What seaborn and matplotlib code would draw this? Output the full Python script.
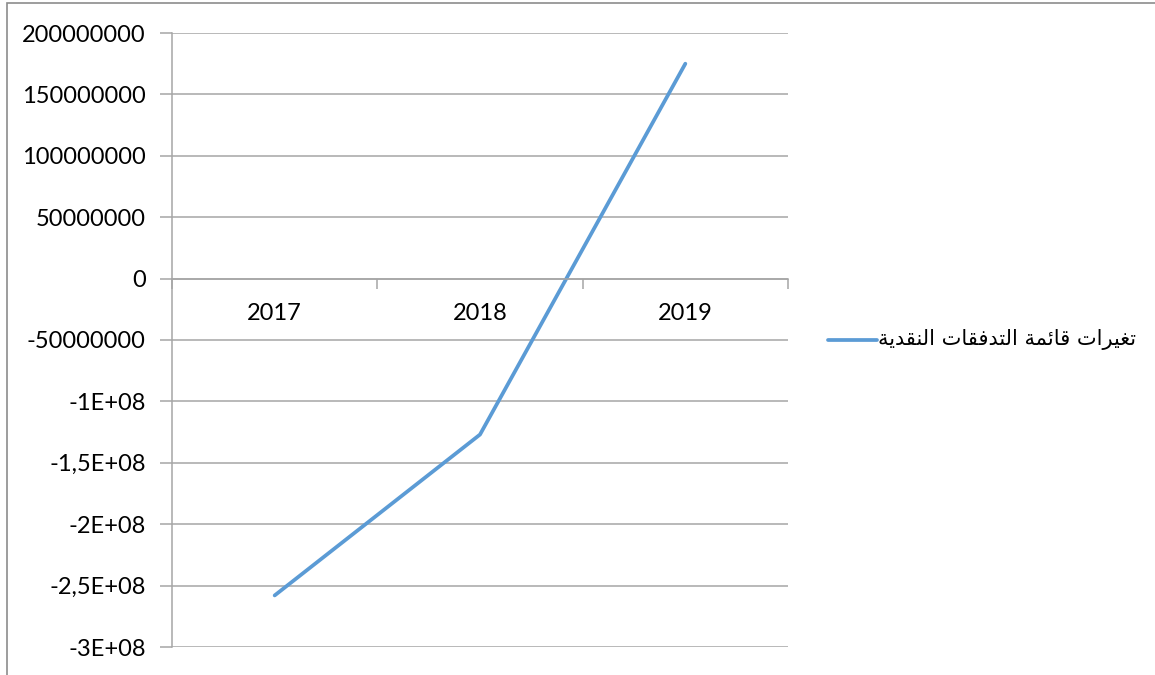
import matplotlib
matplotlib.use("Agg")
import matplotlib.pyplot as plt
import seaborn as sns
import pandas as pd
from matplotlib.patches import Rectangle
from matplotlib.lines import Line2D

# ---- data ----
years = ["2017", "2018", "2019"]
values = [-258000000, -127000000, 175000000]
series_name = "تغيرات قائمة التدفقات النقدية"
y_ticks = [200000000, 150000000, 100000000, 50000000, 0, -50000000,
           -100000000, -150000000, -200000000, -250000000, -300000000]
y_tick_labels = ["200000000", "150000000", "100000000", "50000000", "0",
                 "-50000000", "-1E+08", "-1,5E+08", "-2E+08", "-2,5E+08", "-3E+08"]

# ---- minimal Arabic shaping (presentation forms) ----
FORMS = {  # iso, fin, ini, med
    "ا": ("\uFE8D", "\uFE8E", None, None),
    "ت": ("\uFE95", "\uFE96", "\uFE97", "\uFE98"),
    "ة": ("\uFE93", "\uFE94", None, None),
    "غ": ("\uFECD", "\uFECE", "\uFECF", "\uFED0"),
    "ي": ("\uFEF1", "\uFEF2", "\uFEF3", "\uFEF4"),
    "ر": ("\uFEAD", "\uFEAE", None, None),
    "ق": ("\uFED5", "\uFED6", "\uFED7", "\uFED8"),
    "ئ": ("\uFE89", "\uFE8A", "\uFE8B", "\uFE8C"),
    "م": ("\uFEE1", "\uFEE2", "\uFEE3", "\uFEE4"),
    "ل": ("\uFEDD", "\uFEDE", "\uFEDF", "\uFEE0"),
    "د": ("\uFEA9", "\uFEAA", None, None),
    "ف": ("\uFED1", "\uFED2", "\uFED3", "\uFED4"),
    "ن": ("\uFEE5", "\uFEE6", "\uFEE7", "\uFEE8"),
}


def shape(text):
    out = []
    n = len(text)
    for i, ch in enumerate(text):
        if ch not in FORMS:
            out.append(ch)
            continue
        iso, fin, ini, med = FORMS[ch]
        prev = text[i - 1] if i > 0 else None
        nxt = text[i + 1] if i < n - 1 else None
        jp = prev in FORMS and FORMS[prev][2] is not None
        jn = ini is not None and nxt in FORMS
        if jp and jn:
            out.append(med)
        elif jp:
            out.append(fin)
        elif jn:
            out.append(ini)
        else:
            out.append(iso)
    return "".join(out)[::-1]


sns.set_theme(style="white")
plt.rcParams["font.family"] = ["Lato", "DejaVu Sans"]

W, H = 1155, 675
fig = plt.figure(figsize=(W / 100, H / 100), dpi=100)
fig.patch.set_facecolor("white")

# outer chart border
fig.add_artist(Rectangle((7 / W, -0.1), 1.2, 0.1 + 1 - 3.5 / H, transform=fig.transFigure,
                         fill=False, edgecolor="#8c8c8c", linewidth=1.2))

ax = fig.add_axes([172 / W, 1 - 647 / H, (788 - 172) / W, (647 - 33) / H])

df = pd.DataFrame({"year": years, "value": values})
sns.lineplot(data=df, x="year", y="value", ax=ax, color="#5B9BD5",
             linewidth=2.7, sort=False, legend=False)

grid_c = "#a6a6a6"
ax.set_xlim(-0.5, 2.5)
ax.set_ylim(-300000000, 200000000)
ax.set_yticks(y_ticks)
ax.set_yticklabels(y_tick_labels)
ax.yaxis.grid(True, color=grid_c, linewidth=1.1)
ax.set_axisbelow(True)
ax.tick_params(axis="y", which="major", length=9, width=1.1, color=grid_c,
               direction="out", pad=10, labelsize=17, labelcolor="black", left=True)

# x axis at zero
for s in ["top", "right"]:
    ax.spines[s].set_visible(False)
ax.spines["left"].set_color(grid_c)
ax.spines["left"].set_linewidth(1.1)
ax.spines["bottom"].set_position(("data", 0))
ax.spines["bottom"].set_color(grid_c)
ax.spines["bottom"].set_linewidth(1.1)
ax.set_xticks([0, 1, 2])
ax.set_xticklabels(years)
ax.set_xticks([-0.5, 0.5, 1.5, 2.5], minor=True)
ax.tick_params(axis="x", which="major", length=0, pad=17.5, labelsize=17,
               labelcolor="black", bottom=True)
ax.tick_params(axis="x", which="minor", length=7, width=1.1, color=grid_c,
               direction="out", bottom=True)
ax.set_xlabel("")
ax.set_ylabel("")

# legend (manual, Excel style on the right)
fig.add_artist(Line2D([828 / W, 877 / W], [1 - 340 / H, 1 - 340 / H],
                      transform=fig.transFigure, color="#5B9BD5", linewidth=2.7))
fig.text(878 / W, 1 - 339 / H, shape(series_name), ha="left", va="center",
         fontsize=15, family=["DejaVu Sans"], color="black")

fig.savefig("out.png", dpi=100)
